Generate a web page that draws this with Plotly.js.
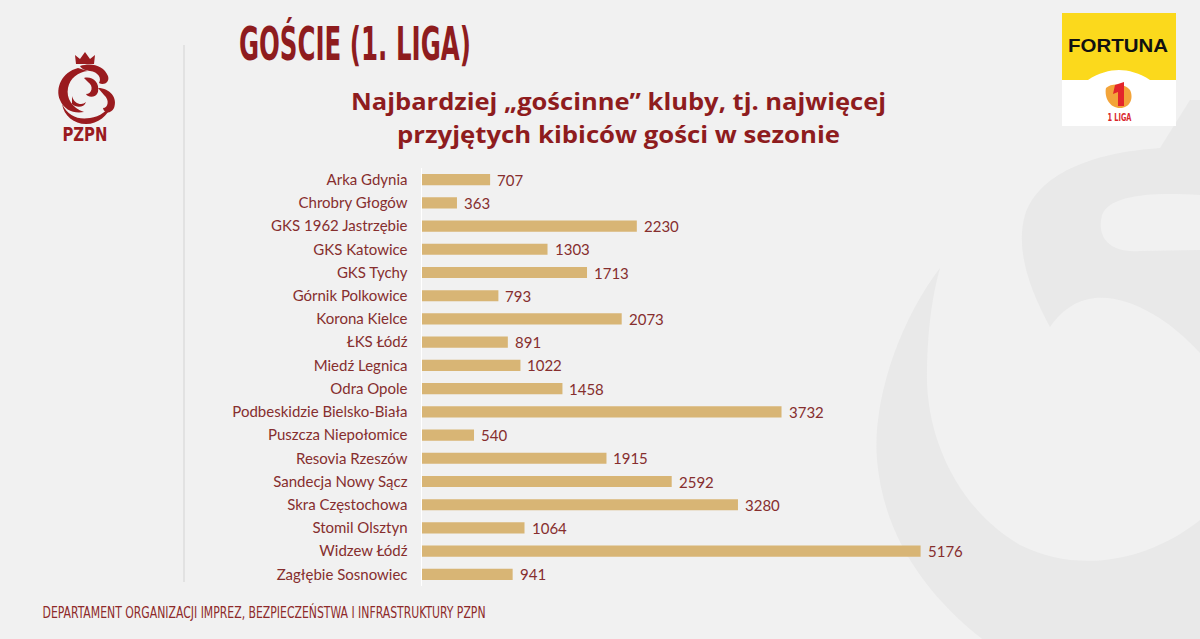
<!DOCTYPE html>
<html>
<head>
<meta charset="utf-8">
<script src="https://cdn.plot.ly/plotly-3.0.1.min.js"></script>
<style>
html,body{margin:0;padding:0;background:#f1f1f1;}
#chart{width:1200px;height:639px;}
</style>
</head>
<body>
<div id="chart"></div>
<script>
// ---- DATA ----
const clubs = [
  "Arka Gdynia","Chrobry Głogów","GKS 1962 Jastrzębie","GKS Katowice","GKS Tychy",
  "Górnik Polkowice","Korona Kielce","ŁKS Łódź","Miedź Legnica","Odra Opole",
  "Podbeskidzie Bielsko-Biała","Puszcza Niepołomice","Resovia Rzeszów","Sandecja Nowy Sącz",
  "Skra Częstochowa","Stomil Olsztyn","Widzew Łódź","Zagłębie Sosnowiec"
];
const guests = [707,363,2230,1303,1713,793,2073,891,1022,1458,3732,540,1915,2592,3280,1064,5176,941];

const titleText = "GOŚCIE (1. LIGA)";
const subtitleLine1 = "Najbardziej „gościnne” kluby, tj. najwięcej";
const subtitleLine2 = "przyjętych kibiców gości w sezonie";
const footerText = "DEPARTAMENT ORGANIZACJI IMPREZ, BEZPIECZEŃSTWA I INFRASTRUKTURY PZPN";

// ---- LAYOUT GEOMETRY ----
const W = 1200, H = 639;
const M = {l: 422, r: 200, t: 168, b: 53};
const pw = W - M.l - M.r, ph = H - M.t - M.b;
const fx = x => (x - M.l) / pw;
const fy = y => 1 - (y - M.t) / ph;
function path(cmds) {
  return cmds.map(c => {
    const k = c[0], nums = c.slice(1), out = [];
    for (let i = 0; i < nums.length; i += 2) out.push(fx(nums[i]).toFixed(5) + "," + fy(nums[i+1]).toFixed(5));
    return k + " " + out.join(" ");
  }).join(" ");
}

const RED = "#8e1c1e";
const LABEL = "#862e2e";

const shapes = [];
const P = (cmds, fill) => shapes.push({type:"path", xref:"paper", yref:"paper", layer:"below",
  path: path(cmds), fillcolor: fill, line:{color:"rgba(0,0,0,0)", width:0}});

// watermark (faint emblem)
const WM = "#e9e9e9";
P([["M",940,268],["C",900,320,872,400,877,460],["C",884,540,930,600,990,645],["L",1200,645],["L",1200,520],
   ["C",1150,560,1080,575,1020,545],["C",960,510,925,440,927,370],["C",928,320,934,290,940,268],["Z"]], WM);
P([["M",1050,327],["C",1030,290,1015,250,1025,215],["C",1040,170,1100,152,1160,148],["L",1190,100],["L",1200,100],["L",1200,195],
   ["C",1150,192,1110,195,1102,215],["C",1096,240,1112,253,1140,251],["L",1200,250],["L",1200,353],
   ["C",1170,320,1130,295,1095,298],["C",1075,300,1060,312,1050,327],["Z"]], WM);

// separator
shapes.push({type:"line", xref:"paper", yref:"paper", x0:fx(184), x1:fx(184), y0:fy(45), y1:fy(582), line:{color:"#d9d9d9", width:1.2}, layer:"below"});

// PZPN emblem (simplified)
const EM = "#9a1b1f";
P([["M",76,64],["L",75,55],["L",80,59],["L",85,52],["L",90,59],["L",95,55],["L",94,64],["Z"]], EM);
P([["M",78,68],["C",62,72,55,88,60,100],["C",64,110,74,114,84,112],["C",72,108,66,98,68,88],["C",70,78,78,72,88,71],["Z"]], EM);
P([["M",80,66],["C",92,62,104,66,108,76],["C",110,82,104,86,99,83],["C",102,78,98,72,90,71],["C",86,70,82,70,80,66],["Z"]], EM);
P([["M",84,78],["C",92,76,100,82,98,92],["C",96,98,88,98,86,94],["C",92,94,94,86,88,82],["Z"]], EM);
P([["M",98,88],["C",110,88,118,98,114,108],["C",111,114,104,114,103,108],["C",108,108,110,100,104,95],["Z"]], EM);
P([["M",62,104],["C",68,116,78,120,90,118],["C",100,117,108,110,112,104],["C",108,116,98,124,86,124],["C",74,124,64,116,62,104],["Z"]], EM);
P([["M",72,96],["C",74,104,82,106,86,102],["C",84,108,76,108,72,104],["Z"]], EM);

// Fortuna logo
shapes.push({type:"rect", xref:"paper", yref:"paper", x0:fx(1062), x1:fx(1176), y0:fy(126), y1:fy(13), fillcolor:"#ffffff", line:{width:0}, layer:"below"});
P([["M",1062,13],["L",1176,13],["L",1176,80],["L",1150,80],["C",1140,73,1128,70,1119,70],["C",1110,70,1098,73,1088,80],["L",1062,80],["Z"]], "#fbd91c");
P([["M",1106,88],["C",1104,98,1110,108,1120,108],["C",1130,108,1134,98,1130,90],["C",1126,84,1112,82,1106,88],["Z"]], "#f3a43a");
P([["M",1115,85],["L",1124,82],["L",1124,106],["L",1118,106],["L",1118,92],["L",1113,94],["Z"]], "#e3262b");

const condensed = "DejaVu Sans Condensed, DejaVu Sans, sans-serif";
// [annotation, target text length in px or null]
const annSpec = [
  [{text:titleText, x:fx(355), y:fy(44),
    font:{family:condensed, size:46, color:RED, weight:700}}, 232],
  [{text:subtitleLine1, x:fx(618), y:fy(101),
    font:{family:"Open Sans, Lato, sans-serif", size:24, color:RED, weight:700}}, 535],
  [{text:subtitleLine2, x:fx(618), y:fy(133),
    font:{family:"Open Sans, Lato, sans-serif", size:24, color:RED, weight:700}}, 443],
  [{text:"PZPN", x:fx(85), y:fy(134),
    font:{family:condensed, size:19, color:EM, weight:700}}, 45],
  [{text:"FORTUNA", x:fx(1118), y:fy(46),
    font:{family:"Liberation Sans, Arial, sans-serif", size:18, color:"#111111", weight:700}}, 100],
  [{text:"1 LIGA", x:fx(1119), y:fy(118),
    font:{family:condensed, size:10, color:"#d9262b", weight:700}}, 24],
  [{text:footerText, x:fx(42 + 443 / 2), y:fy(612),
    font:{family:condensed, size:15, color:"#8e2a2a"}}, 443]
];
const annotations = annSpec.map(s => Object.assign({xref:"paper", yref:"paper", xanchor:"center", yanchor:"middle", showarrow:false}, s[0]));

// value labels, placed in data coordinates at the bar ends
guests.forEach((v, i) => annotations.push({
  xref:"x", yref:"y", x:v, y:clubs[i], text:String(v), showarrow:false,
  xanchor:"left", yanchor:"middle", xshift:5,
  font:{family:"Lato, Open Sans, sans-serif", size:15, color:LABEL}
}));

const trace = {
  type:"bar", orientation:"h", x:guests, y:clubs,
  marker:{color:"#d8b575"}, width:0.48,
  hoverinfo:"x+y"
};

const layout = {
  width:W, height:H, margin:M,
  paper_bgcolor:"#f1f1f1", plot_bgcolor:"rgba(0,0,0,0)",
  showlegend:false,
  xaxis:{range:[0,6000], visible:false, fixedrange:true},
  yaxis:{autorange:"reversed", type:"category", showgrid:false, zeroline:false,
         showline:true, linecolor:"#ffffff", linewidth:1.5,
         ticks:"outside", ticklen:10, tickcolor:"rgba(0,0,0,0)",
         tickfont:{family:"Lato, Open Sans, sans-serif", size:15, color:LABEL}},
  shapes:shapes, annotations:annotations
};

Plotly.newPlot("chart", [trace], layout, {displayModeBar:false, staticPlot:true}).then(gd => {
  // fit condensed display texts to their widths in the reference
  const texts = gd.querySelectorAll(".annotation .annotation-text");
  annSpec.forEach((s, i) => {
    const t = texts[i];
    if (t && s[1]) { t.setAttribute("textLength", s[1]); t.setAttribute("lengthAdjust", "spacingAndGlyphs"); }
  });
});
</script>
</body>
</html>
